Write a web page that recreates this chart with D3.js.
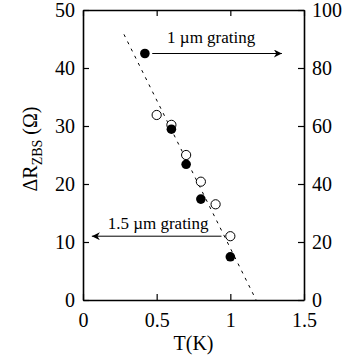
<!DOCTYPE html>
<html><head><meta charset="utf-8">
<script src="https://cdn.jsdelivr.net/npm/d3@7"></script>
<style>body{margin:0;background:#fff;} svg text{font-family:"Liberation Serif","Times New Roman","DejaVu Serif",serif !important;}</style>
</head><body><svg id="c" width="348" height="355"></svg>
<script>
// data
const filledT = [0.42, 0.6, 0.7, 0.8, 1.0];       // 1 µm grating (right axis)
const filledR = [85, 58.9, 46.8, 34.8, 14.9];
const openT = [0.5, 0.6, 0.7, 0.8, 0.9, 1.0];     // 1.5 µm grating (left axis)
const openR = [31.9, 30.2, 25, 20.4, 16.5, 11.0];
const fitT = [0.278, 1.175];
const fitR = [45.8, 0];
const xTicks = [0, 0.5, 1, 1.5];
const xTickLabels = ["0", "0.5", "1", "1.5"];
const yLeftTicks = [0, 10, 20, 30, 40, 50];
const yRightTicks = [0, 20, 40, 60, 80, 100];

const svg = d3.select("#c");
const m = {l:83, r:304, t:10, b:300};
const x = d3.scaleLinear().domain([0,1.5]).range([m.l,m.r]);
const yL = d3.scaleLinear().domain([0,50]).range([m.b,m.t]);
const yR = d3.scaleLinear().domain([0,100]).range([m.b,m.t]);

svg.append("defs").append("marker").attr("id","ah").attr("viewBox","0 0 10 10")
  .attr("refX",10).attr("refY",5).attr("markerWidth",14).attr("markerHeight",8)
  .attr("markerUnits","userSpaceOnUse").attr("orient","auto")
  .append("path").attr("d","M0,0 L10,5 L0,10 L3,5 Z").attr("fill","#000");

const fs = 20;
const gB = svg.append("g").attr("transform",`translate(0,${m.b})`)
  .call(d3.axisBottom(x).tickValues(xTicks).tickFormat((d,i)=>xTickLabels[i]).tickSizeInner(-6).tickSizeOuter(0).tickPadding(13));
const gT = svg.append("g").attr("transform",`translate(0,${m.t})`)
  .call(d3.axisTop(x).tickValues(xTicks).tickFormat("").tickSizeInner(-6).tickSizeOuter(0));
const gL = svg.append("g").attr("transform",`translate(${m.l},0)`)
  .call(d3.axisLeft(yL).tickValues(yLeftTicks).tickSizeInner(-6).tickSizeOuter(0).tickPadding(8));
const gR = svg.append("g").attr("transform",`translate(${m.r},0)`)
  .call(d3.axisRight(yR).tickValues(yRightTicks).tickSizeInner(-6).tickSizeOuter(0).tickPadding(8));
[gB,gT,gL,gR].forEach(g=>{
  g.attr("font-family",null).attr("font-size",null);
  g.select(".domain").attr("stroke","#000").attr("stroke-width",1.6);
  g.selectAll(".tick line").attr("stroke","#000").attr("stroke-width",1.2);
  g.selectAll(".tick text").style("font-size",fs+"px").attr("fill","#000");
});
gL.selectAll(".tick text").attr("dy","0.34em");
gR.selectAll(".tick text").attr("dy","0.34em");
gB.selectAll(".tick text").attr("dy","0.71em");

svg.append("line").attr("x1",x(fitT[0])).attr("y1",yL(fitR[0])).attr("x2",x(fitT[1])).attr("y2",yL(fitR[1]))
  .attr("stroke","#000").attr("stroke-width",1).attr("stroke-dasharray","3,5");

svg.selectAll(".op").data(openT).enter().append("circle")
  .attr("cx",d=>x(d)).attr("cy",(d,i)=>yL(openR[i])).attr("r",4.6)
  .attr("fill","#fff").attr("stroke","#000").attr("stroke-width",1);
svg.selectAll(".fp").data(filledT).enter().append("circle")
  .attr("cx",d=>x(d)).attr("cy",(d,i)=>yR(filledR[i])).attr("r",4.8)
  .attr("fill","#000");

svg.append("line").attr("x1",x(0.47)).attr("y1",yR(85)).attr("x2",x(1.35)).attr("y2",yR(85))
  .attr("stroke","#000").attr("stroke-width",1).attr("marker-end","url(#ah)");
svg.append("text").attr("x",x(0.87)).attr("y",yR(85)-11).attr("text-anchor","middle").style("font-size","17px").text("1 µm grating");
svg.append("line").attr("x1",x(0.94)).attr("y1",yL(11)).attr("x2",x(0.06)).attr("y2",yL(11))
  .attr("stroke","#000").attr("stroke-width",1).attr("marker-end","url(#ah)");
svg.append("text").attr("x",x(0.51)).attr("y",yL(11)-7).attr("text-anchor","middle").style("font-size","17px").text("1.5 µm grating");

svg.append("text").attr("x",(m.l+m.r)/2).attr("y",350).attr("text-anchor","middle").style("font-size",fs+"px").text("T(K)");
const yt = svg.append("text").attr("transform",`translate(37,149) rotate(-90)`).attr("text-anchor","middle").style("font-size",fs+"px");
yt.append("tspan").text("ΔR");
yt.append("tspan").style("font-size","14px").attr("dy",5).text("ZBS");
yt.append("tspan").attr("dy",-5).text(" (Ω)");
</script></body></html>
